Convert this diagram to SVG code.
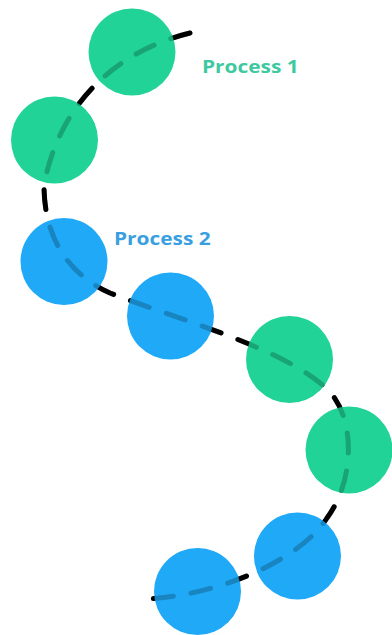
<svg xmlns="http://www.w3.org/2000/svg" width="392" height="635" viewBox="0 0 392 635">
  <style>
    .green { fill: #21d396; }
    .blue { fill: #1fa9f6; }
    .link { fill: none; stroke: #000; stroke-width: 5; stroke-linecap: round; stroke-dasharray: 20 18; }
    .link-over { fill: none; stroke: #000; stroke-opacity: 0.22; stroke-width: 5; stroke-linecap: round; stroke-dasharray: 20 18; }
    .label { font-family: "Open Sans", "Liberation Sans", sans-serif; font-weight: 700; font-size: 18px; }
  </style>
  <rect width="392" height="635" fill="#ffffff"/>
  <g id="connectors">
    <path id="route" class="link" d="M190,33 C120,50 60,100 44,185 C44,240 70,275 110,293 C180,320 290,350 330,392 C355,420 355,480 327,518 C300,560 220,595 147,599"/>
  </g>
  <g id="node-1"><circle class="green" cx="132" cy="52" r="43.5"/></g>
  <g id="node-2"><circle class="green" cx="54.5" cy="140" r="43.5"/></g>
  <g id="node-3"><circle class="blue" cx="64" cy="261.5" r="43.5"/></g>
  <g id="node-4"><circle class="blue" cx="170.5" cy="316" r="43.5"/></g>
  <g id="node-5"><circle class="green" cx="289.5" cy="359.5" r="43.5"/></g>
  <g id="node-6"><circle class="green" cx="349" cy="450" r="43.5"/></g>
  <g id="node-7"><circle class="blue" cx="297.5" cy="556" r="43.5"/></g>
  <g id="node-8"><circle class="blue" cx="197.5" cy="591.5" r="43.5"/></g>
  <g id="connector-shade">
    <path class="link-over" d="M190,33 C120,50 60,100 44,185 C44,240 70,275 110,293 C180,320 290,350 330,392 C355,420 355,480 327,518 C300,560 220,595 147,599"/>
  </g>
  <g id="label-process-1"><text class="label" transform="translate(202,73) scale(1.16,1)" fill="#3ec9a0">Process 1</text></g>
  <g id="label-process-2"><text class="label" transform="translate(114,245) scale(1.16,1)" fill="#3a9fe0">Process 2</text></g>
</svg>
